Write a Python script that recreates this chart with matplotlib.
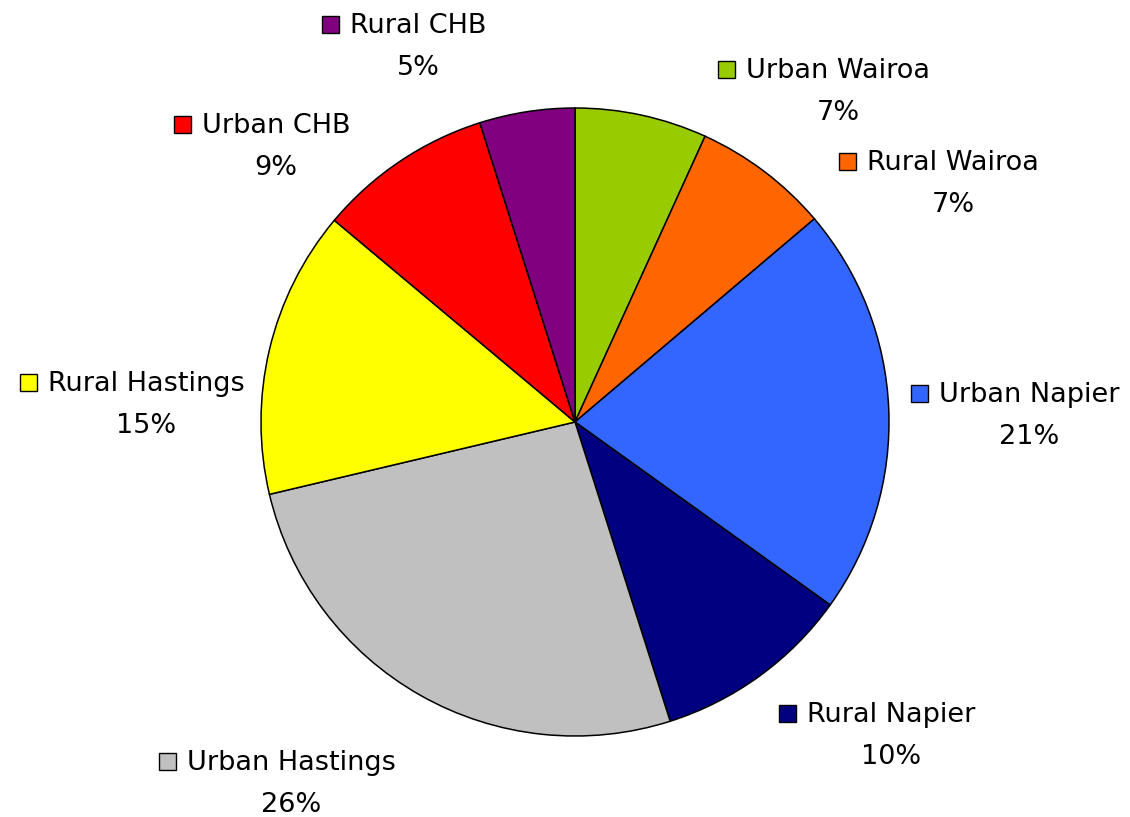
import matplotlib
matplotlib.use("Agg")
import matplotlib.pyplot as plt
from matplotlib.patches import Rectangle

# data, clockwise from 12 o'clock
labels = ["Urban Wairoa", "Rural Wairoa", "Urban Napier", "Rural Napier",
          "Urban Hastings", "Rural Hastings", "Urban CHB", "Rural CHB"]
shares = [6.8, 7.0, 21.1, 10.2, 26.2, 14.8, 9.0, 4.9]
colors = ["#99CC00", "#FF6600", "#3366FF", "#000080",
          "#C0C0C0", "#FFFF00", "#FF0000", "#800080"]

# label anchor (pixel x centre of name, pixel y baseline of name)
label_px = [(838, 78), (953, 170), (1029, 402), (891, 722),
            (291, 770), (146, 391), (276, 133), (418, 33)]

W, H = 1130, 817
cx, cy, R = 575, 422, 314

fig = plt.figure(figsize=(W / 100, H / 100), dpi=100)
ax = fig.add_axes([0, 0, 1, 1])

ax.pie(shares, colors=colors, startangle=90, counterclock=False, radius=1.0,
       wedgeprops=dict(edgecolor="black", linewidth=1.1))

# pie() resets the limits, so set them afterwards
ax.set_xlim(-cx / R, (W - cx) / R)
ax.set_ylim(-(H - cy) / R, cy / R)
ax.set_aspect("equal")
ax.axis("off")


def to_data(px, py):
    return (px - cx) / R, (cy - py) / R


fs = 19.5
names = []
for lab, v, (px, py) in zip(labels, shares, label_px):
    x, y = to_data(px, py)
    t = ax.text(x, y, lab, ha="center", va="baseline", fontsize=fs,
                family="DejaVu Sans")
    x2, y2 = to_data(px, py + 42)
    ax.text(x2, y2, "{:.0f}%".format(v), ha="center", va="baseline",
            fontsize=fs, family="DejaVu Sans")
    names.append(t)

fig.canvas.draw()
rend = fig.canvas.get_renderer()
inv = ax.transData.inverted()
sq = 17 / R
for t, c in zip(names, colors):
    bb = t.get_window_extent(rend)
    left = inv.transform((bb.x0, bb.y0))[0]
    x0 = left - 11 / R - sq
    y0 = t.get_position()[1]
    ax.add_patch(Rectangle((x0, y0), sq, sq, facecolor=c, edgecolor="black",
                           linewidth=1.0, clip_on=False))

fig.savefig("out.png", dpi=100)
